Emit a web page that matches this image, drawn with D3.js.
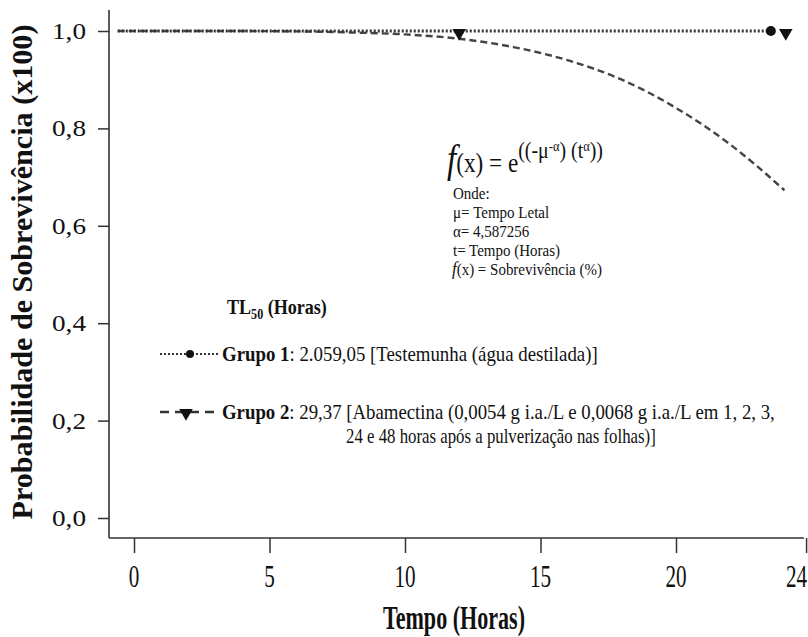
<!DOCTYPE html>
<html>
<head>
<meta charset="utf-8">
<script src="https://cdn.jsdelivr.net/npm/d3@7"></script>
<style>
  body { margin: 0; background: #fff; }
  svg { display: block; }
  text { font-family: 'Liberation Serif', 'DejaVu Serif', serif; fill: #111; }
</style>
</head>
<body>
<script>
// tick values and labels
const xTicks = [0, 5, 10, 15, 20, 24.8]
const xTickLabels = ['0', '5', '10', '15', '20', '24']
const yTicks = [0, 0.2, 0.4, 0.6, 0.8, 1.0]
const yTickLabels = ['0,0', '0,2', '0,4', '0,6', '0,8', '1,0']

// Grupo 1 (testemunha) - dotted line, stays at 1
const g1Time = [-0.6, 23.5]
const g1Surv = [1.0, 1.0]
const g1MarkTime = [23.5]
const g1MarkSurv = [1.0]

// Grupo 2 (abamectina) - dashed fitted curve
const g2Time = [-0.6, 0, 2, 4, 6, 8, 10, 12, 14, 16, 18, 20, 22, 23, 24]
const g2Surv = [1.0, 1.0, 1.0, 0.9999, 0.9993, 0.997, 0.993, 0.984, 0.967, 0.940, 0.900, 0.842, 0.767, 0.722, 0.673]
const g2MarkTime = [12, 24.05]
const g2MarkSurv = [1.0, 1.0]

const groupNames = ['Grupo 1', 'Grupo 2']
const groupTL50 = ['2.059,05', '29,37']
const groupDesc = ['[Testemunha (água destilada)]',
                   '[Abamectina (0,0054 g i.a./L e 0,0068 g i.a./L em 1, 2, 3,']
const group2Extra = '24 e 48 horas após a pulverização nas folhas)]'

const ondeLines = ['Onde:', 'μ= Tempo Letal', 'α= 4,587256', 't= Tempo (Horas)']

const W = 808, H = 637
const svg = d3.select('body').append('svg').attr('width', W).attr('height', H)
  .attr('font-family', "'Liberation Serif', 'DejaVu Serif', serif")

const x = d3.scaleLinear().domain([0, 20]).range([134, 676])
const y = d3.scaleLinear().domain([0, 1]).range([518, 31])
const axisX = 109, axisY = 538

// squeeze text horizontally to a given width (the original is condensed)
const fit = (sel, tx, ty, w, rot) => {
  const len = sel.node().getComputedTextLength()
  sel.attr('transform', `translate(${tx},${ty})${rot ? ' rotate(-90)' : ''} scale(${w / len},1)`)
  return sel
}

// axes
const yAxis = svg.append('g')
  .attr('transform', `translate(${axisX},0)`)
  .call(d3.axisLeft(y).tickValues(yTicks).tickSize(11).tickSizeOuter(0).tickFormat(''))
yAxis.select('.domain').remove()
yAxis.selectAll('line').attr('stroke', '#333').attr('stroke-width', 1.5)

const xAxis = svg.append('g')
  .attr('transform', `translate(0,${axisY})`)
  .call(d3.axisBottom(x).tickValues(xTicks).tickSize(15).tickSizeOuter(0).tickFormat(''))
xAxis.select('.domain').remove()
xAxis.selectAll('line').attr('stroke', '#333').attr('stroke-width', 1.5)

svg.append('line').attr('x1', axisX).attr('x2', axisX).attr('y1', 10).attr('y2', axisY)
  .attr('stroke', '#333').attr('stroke-width', 1.6)
svg.append('line').attr('x1', axisX).attr('x2', 804).attr('y1', axisY).attr('y2', axisY)
  .attr('stroke', '#333').attr('stroke-width', 1.6)

yTicks.forEach((v, i) => {
  const t = svg.append('text').attr('text-anchor', 'end').attr('font-size', 24)
    .text(yTickLabels[i])
  const len = t.node().getComputedTextLength()
  t.attr('transform', `translate(86,${y(v) + 8}) scale(${34 / len},1)`)
})

xTicks.forEach((v, i) => {
  const last = i === xTicks.length - 1
  const t = svg.append('text').attr('text-anchor', last ? 'end' : 'middle')
    .attr('font-size', 32).text(xTickLabels[i])
  t.attr('transform', `translate(${last ? x(v) + 1 : x(v)},587) scale(0.66,1)`)
})

// axis titles
fit(svg.append('text').attr('text-anchor', 'middle').attr('font-size', 34).attr('font-weight', 'bold')
  .text('Tempo (Horas)'), 454, 629, 142)
fit(svg.append('text').attr('text-anchor', 'middle').attr('font-size', 30).attr('font-weight', 'bold')
  .text('Probabilidade de Sobrevivência (x100)'), 32, 272, 495, true)

// lines
const line = d3.line().x(d => x(d[0])).y(d => y(d[1]))
svg.append('path').datum(d3.zip(g2Time, g2Surv))
  .attr('d', line.curve(d3.curveMonotoneX)).attr('fill', 'none')
  .attr('stroke', '#444').attr('stroke-width', 2.4).attr('stroke-dasharray', '7,4')
svg.append('path').datum(d3.zip(g1Time, g1Surv))
  .attr('d', d3.line().x(d => x(d[0])).y(d => y(d[1]))).attr('fill', 'none')
  .attr('stroke', '#333').attr('stroke-width', 2.8).attr('stroke-dasharray', '2,2')

const tri = d3.symbol().type(d3.symbolTriangle).size(80)
svg.selectAll('.m1').data(d3.zip(g1MarkTime, g1MarkSurv)).enter().append('circle')
  .attr('cx', d => x(d[0])).attr('cy', d => y(d[1])).attr('r', 5).attr('fill', '#111')
svg.selectAll('.m2').data(d3.zip(g2MarkTime, g2MarkSurv)).enter().append('path')
  .attr('d', tri).attr('fill', '#111')
  .attr('transform', d => `translate(${x(d[0])},${y(d[1]) + 2}) rotate(180)`)

// formula
const f = svg.append('text').attr('font-size', 28)
f.append('tspan').attr('font-style', 'italic').attr('font-size', 40).text('f')
f.append('tspan').text('(x) = e')
f.append('tspan').attr('font-size', 24).attr('dy', -14).text('((-μ')
f.append('tspan').attr('font-size', 15).attr('dy', -7).text('-α')
f.append('tspan').attr('font-size', 24).attr('dy', 7).text(') (t')
f.append('tspan').attr('font-size', 15).attr('dy', -7).text('α')
f.append('tspan').attr('font-size', 24).attr('dy', 7).text('))')
fit(f, 447, 172, 156)

const fx = svg.append('text').attr('font-size', 17)
fx.append('tspan').attr('font-style', 'italic').attr('font-size', 19).text('f')
fx.append('tspan').text('(x) = Sobrevivência (%)')
const ondeScale = 150 / fx.node().getComputedTextLength()
fx.attr('transform', `translate(452,275) scale(${ondeScale},1)`)
ondeLines.forEach((s, i) => {
  svg.append('text').attr('font-size', 17).text(s)
    .attr('transform', `translate(453,${199 + i * 19}) scale(${ondeScale},1)`)
})

// legend
const tl = svg.append('text').attr('font-size', 21).attr('font-weight', 'bold')
tl.append('tspan').text('TL')
tl.append('tspan').attr('font-size', 14).attr('dy', 5).text('50')
tl.append('tspan').attr('dy', -5).text(' (Horas)')
fit(tl, 227, 314, 100)

const legY = [354, 412]
svg.append('line').attr('x1', 160).attr('x2', 218).attr('y1', legY[0]).attr('y2', legY[0])
  .attr('stroke', '#333').attr('stroke-width', 2.2).attr('stroke-dasharray', '2,2')
svg.append('circle').attr('cx', 190).attr('cy', legY[0]).attr('r', 4).attr('fill', '#111')
svg.append('line').attr('x1', 160).attr('x2', 218).attr('y1', legY[1]).attr('y2', legY[1])
  .attr('stroke', '#333').attr('stroke-width', 2.6).attr('stroke-dasharray', '9,6')
svg.append('path').attr('d', tri).attr('fill', '#111')
  .attr('transform', `translate(186,${legY[1] + 1}) rotate(180)`)

const legW = [376, 553]
groupNames.forEach((g, i) => {
  const t = svg.append('text').attr('font-size', 22)
  t.append('tspan').attr('font-weight', 'bold').text(g)
  t.append('tspan').text(': ' + groupTL50[i] + ' ' + groupDesc[i])
  fit(t, 222, legY[i] + 7, legW[i])
})
fit(svg.append('text').attr('font-size', 22).text(group2Extra), 346, 443, 310)
</script>
</body>
</html>
